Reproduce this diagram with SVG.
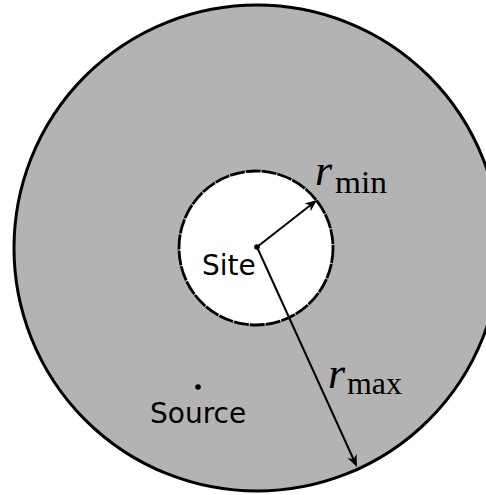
<svg xmlns="http://www.w3.org/2000/svg" width="486" height="495" viewBox="0 0 486 495">
<style>
.lbl{font-family:"DejaVu Sans",sans-serif;font-size:28px;fill:#000}
.mi{font-family:"Liberation Serif","DejaVu Serif",serif;font-style:italic;font-size:44px;fill:#000}
.sub{font-family:"Liberation Serif","DejaVu Serif",serif;font-size:31px;fill:#000}
.arr{stroke:#000;stroke-width:2;fill:none}
</style>
<defs>
<marker id="ah" viewBox="-13 -6 14 12" refX="-6" refY="0" markerWidth="14" markerHeight="12" markerUnits="userSpaceOnUse" orient="auto">
<path d="M0,0 L-12,-5 L-8.5,0 L-12,5 Z" fill="#000"/>
</marker>
</defs>
<rect width="486" height="495" fill="#fff"/>
<g id="outer">
<circle cx="257" cy="248" r="243" fill="#b3b3b3" stroke="#000" stroke-width="3"/>
</g>
<g id="inner">
<circle cx="256" cy="248" r="77" fill="#fff" stroke="#000" stroke-width="2.8" stroke-dasharray="15 1"/>
</g>
<g id="connectors">
<line class="arr" x1="257" y1="247" x2="312.3" y2="203.7" marker-end="url(#ah)"/>
<line class="arr" x1="257" y1="247" x2="354.5" y2="461.5" marker-end="url(#ah)"/>
</g>
<g id="site">
<circle cx="257" cy="247" r="2.8" fill="#000"/>
<text class="lbl" x="202" y="275">Site</text>
</g>
<g id="source">
<circle cx="198" cy="387" r="2.8" fill="#000"/>
<text class="lbl" x="150" y="423">Source</text>
</g>
<g id="rmin">
<text x="315" y="185"><tspan class="mi">r</tspan></text>
<text class="sub" x="335" y="193" textLength="52" lengthAdjust="spacingAndGlyphs">min</text>
</g>
<g id="rmax">
<text x="328" y="388"><tspan class="mi">r</tspan></text>
<text class="sub" x="347" y="394" textLength="55" lengthAdjust="spacingAndGlyphs">max</text>
</g>
</svg>
